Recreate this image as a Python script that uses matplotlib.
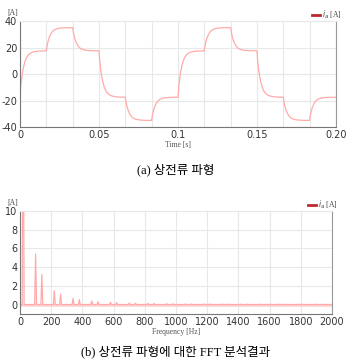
import matplotlib
matplotlib.use("Agg")
import matplotlib.pyplot as plt
from matplotlib.lines import Line2D
import numpy as np

plt.rcParams["axes.unicode_minus"] = False

# phase current: level reached at the end of each 1/60 s step (start value first)
step_levels = [-16.5, 17.5, 35, 17.5, -17.5, -35, -17.5, 17.5, 35, 17.5, -17.5, -35, -17.5]
step_len = 1 / 60
# shape of one step response (fraction of step vs fraction of step time)
shape_t = [0, 0.03, 0.06, 0.1, 0.15, 0.2, 0.25, 0.3, 0.4, 0.5, 0.7, 1.0]
shape_v = [0, 0.22, 0.38, 0.54, 0.68, 0.78, 0.85, 0.90, 0.95, 0.975, 0.995, 1.0]

# FFT of the phase current: harmonic frequencies [Hz] and amplitudes [A]
harm_freq = [20, 100, 140, 220, 260, 340, 380, 460, 500, 580, 620, 700, 740, 820, 860,
             940, 980, 1060, 1100, 1180, 1220, 1300, 1340, 1420, 1460, 1540, 1580,
             1660, 1700, 1780, 1820, 1900, 1940]
harm_amp = [30, 5.4, 3.2, 1.47, 1.12, 0.66, 0.52, 0.37, 0.30, 0.23, 0.20, 0.16, 0.14,
            0.11, 0.10, 0.08, 0.07, 0.06, 0.06, 0.05, 0.05, 0.04, 0.04, 0.04, 0.04,
            0.03, 0.03, 0.03, 0.03, 0.03, 0.03, 0.03, 0.03]

time_ticks = [0, 0.05, 0.1, 0.15, 0.2]
time_labels = ["0", "0.05", "0.1", "0.15", "0.20"]
freq_ticks = list(range(0, 2001, 200))
cur_ticks = [-40, -20, 0, 20, 40]
fft_ticks = [0, 2, 4, 6, 8, 10]

line_col = "#ffaaaa"
grid_col = "#e8e8e8"
tick_col = "#333333"
serif = ["Liberation Serif", "Noto Sans CJK KR"]
caption_font = ["Liberation Serif", "Noto Sans CJK KR"]

# build waveform
t_vals, i_vals = [], []
for k in range(len(step_levels) - 1):
    a, b = step_levels[k], step_levels[k + 1]
    for s, f in zip(shape_t, shape_v):
        t_vals.append((k + s) * step_len)
        i_vals.append(a + (b - a) * f)

# build spectrum line
half_w = 6
f_vals, a_vals = [0], [0]
for f, a in zip(harm_freq, harm_amp):
    f_vals += [f - half_w, f, f + half_w]
    a_vals += [0, a, 0]
f_vals.append(2000)
a_vals.append(0)

fig = plt.figure(figsize=(3.51, 3.62), dpi=100)
ax1 = fig.add_axes([0.057, 0.649, 0.900, 0.293])
ax2 = fig.add_axes([0.057, 0.133, 0.889, 0.284])


def style_axes(ax):
    ax.grid(True, which="both", color=grid_col, linewidth=0.8)
    ax.set_axisbelow(True)
    ax.tick_params(which="both", length=0, labelsize=7, colors=tick_col, pad=2)
    ax.spines["left"].set_color("#777777")
    ax.spines["bottom"].set_color("#777777")
    ax.spines["right"].set_color("#999999")
    ax.spines["top"].set_color(grid_col)
    for sp in ax.spines.values():
        sp.set_linewidth(0.8)


# (a) time waveform
ax1.plot(t_vals, i_vals, color=line_col, linewidth=0.9)
ax1.set_xlim(0, 0.2)
ax1.set_ylim(-40, 40)
ax1.set_xticks(time_ticks)
ax1.set_xticklabels(time_labels)
ax1.set_xticks(np.arange(0, 0.2001, step_len), minor=True)
ax1.set_yticks(cur_ticks)
style_axes(ax1)
ax1.set_xlabel("Time [s]", fontsize=5.5, family=serif, color="#555555", labelpad=1)

# (b) FFT
ax2.plot([0, 2000], [0, 0], color="#ffd0d0", linewidth=1.8)
ax2.plot(f_vals, a_vals, color=line_col, linewidth=0.9)
ax2.set_xlim(0, 2000)
ax2.set_ylim(-1, 10)
ax2.set_xticks(freq_ticks)
ax2.set_yticks(fft_ticks)
style_axes(ax2)
ax2.set_xlabel("Frequency [Hz]", fontsize=5.5, family=serif, color="#555555", labelpad=1)

for ax in (ax1, ax2):
    ax.text(-0.04, 1.04, "[A]", transform=ax.transAxes, fontsize=5.5, family=serif,
            color="#444444", ha="left", va="bottom")
    handle = Line2D([], [], color="#c0282d", linewidth=2)
    leg = ax.legend([handle], [r"$i_a$ [A]"], loc="lower right", bbox_to_anchor=(1.02, 0.99),
                    frameon=False, handlelength=1.0, handletextpad=0.3,
                    borderaxespad=0, borderpad=0.1, prop={"family": serif, "size": 5.5})
    for txt in leg.get_texts():
        txt.set_color("#444444")

fig.text(0.5, 0.532, "(a) 상전류 파형", ha="center", va="center", fontsize=9,
         family=caption_font)
fig.text(0.5, 0.028, "(b) 상전류 파형에 대한 FFT 분석결과", ha="center", va="center",
         fontsize=9, family=caption_font)

fig.savefig("out.png", dpi=100)
